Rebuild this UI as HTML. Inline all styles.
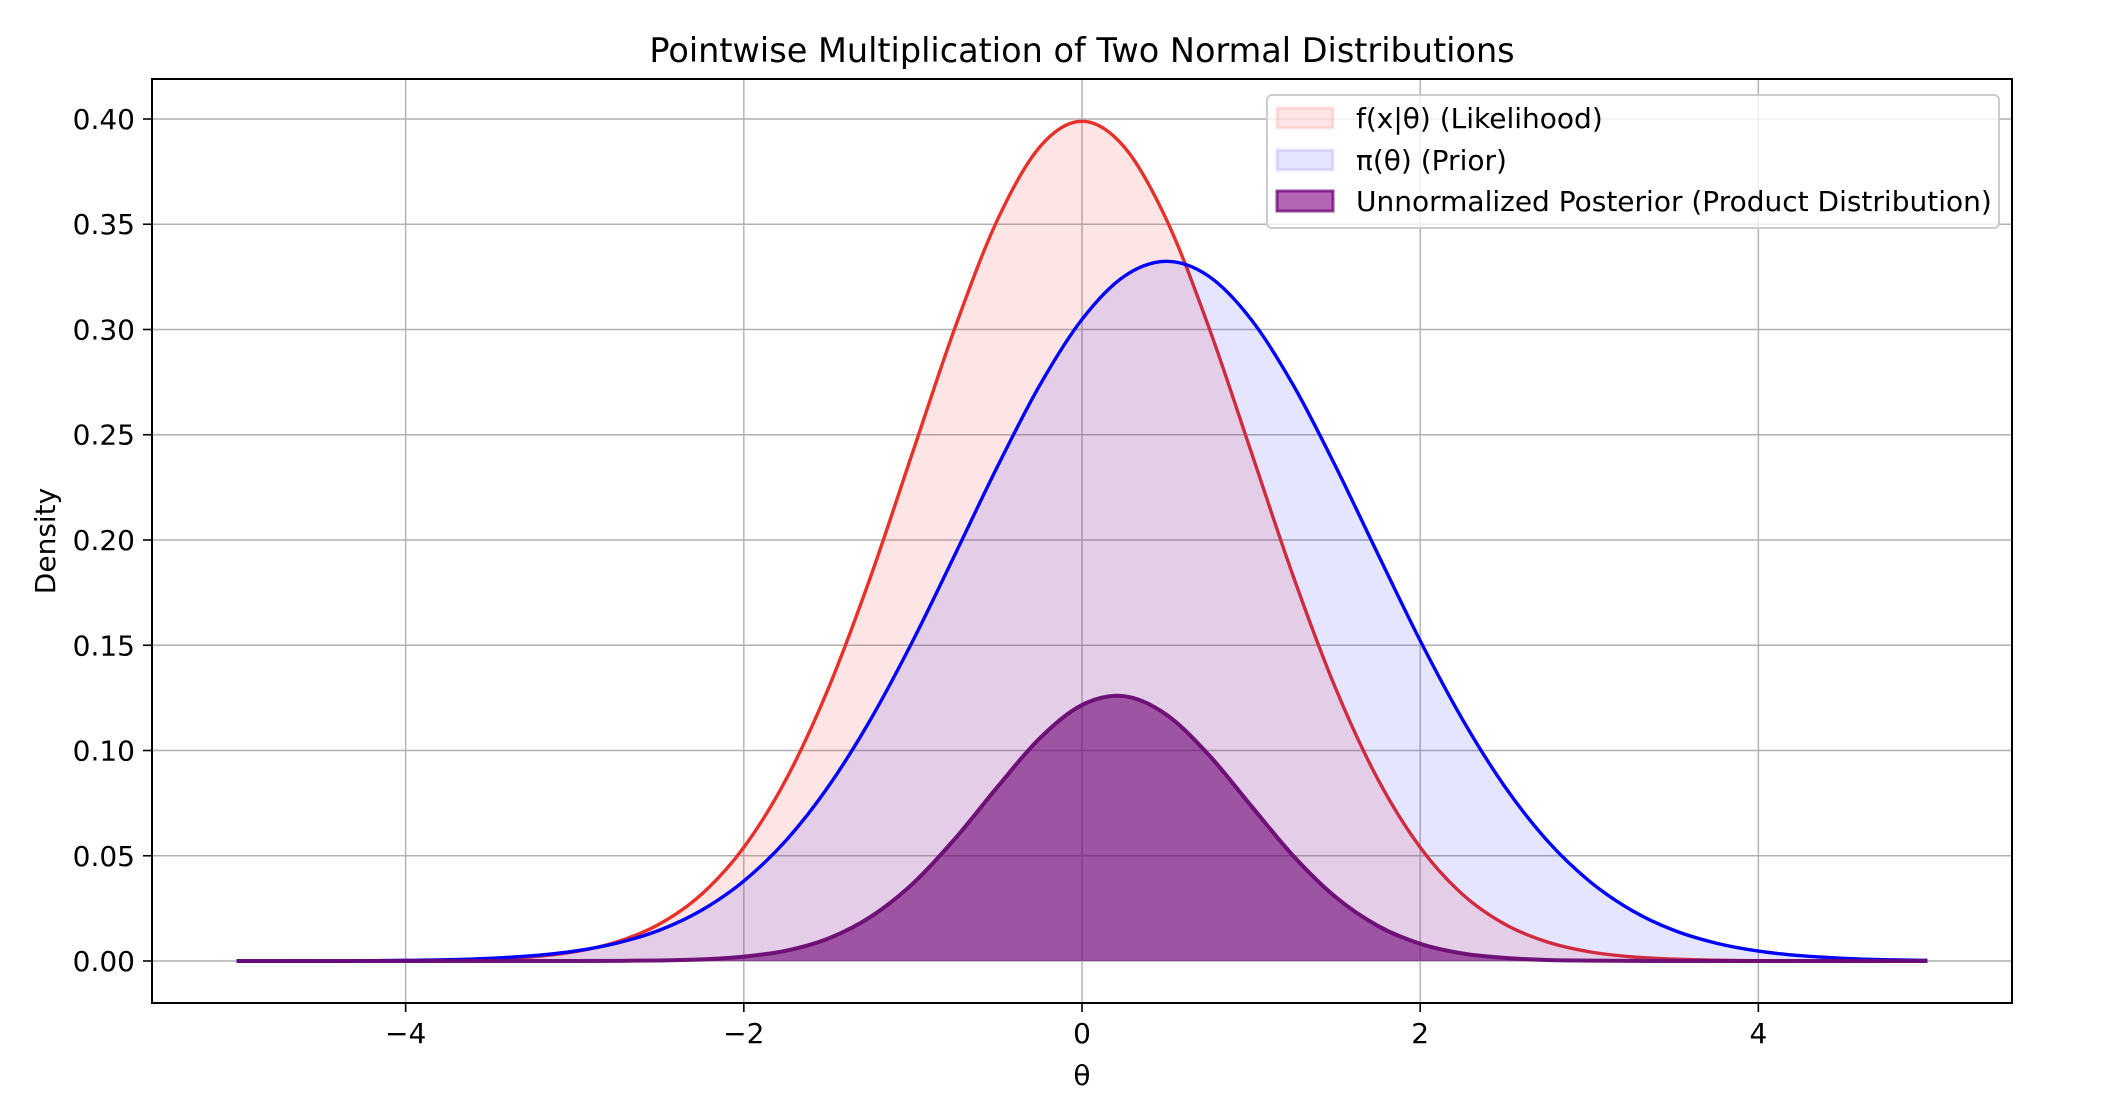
<!DOCTYPE html>
<html><head><meta charset="utf-8"><style>
html,body{margin:0;padding:0;background:#fff;}
svg{display:block;font-family:"DejaVu Sans","Liberation Sans",sans-serif;}
</style></head><body>
<svg id="chart" width="2120" height="1110" viewBox="0 0 2120 1110" xmlns="http://www.w3.org/2000/svg">
<rect width="2120" height="1110" fill="#fff"/>
<g id="grid"></g>
<g id="series"></g>
<g id="axes"></g>
<text x="1082" y="62" font-size="33.5" text-anchor="middle">Pointwise Multiplication of Two Normal Distributions</text>
<text x="1082" y="1085" font-size="28" text-anchor="middle">θ</text>
<text x="0" y="0" font-size="28" text-anchor="middle" transform="translate(55,541) rotate(-90)">Density</text>
<g>
<rect x="1267" y="95" width="732" height="133" rx="5" fill="#fff" fill-opacity="0.8" stroke="#cccccc" stroke-width="2"/>
<rect x="1277" y="108" width="56" height="20" fill="#ff0000" fill-opacity="0.1" stroke="#ff0000" stroke-opacity="0.1" stroke-width="3"/>
<text x="1356" y="128" font-size="28">f(x|θ) (Likelihood)</text>
<rect x="1277" y="150" width="56" height="20" fill="#0000ff" fill-opacity="0.1" stroke="#0000ff" stroke-opacity="0.1" stroke-width="3"/>
<text x="1356" y="170" font-size="28">π(θ) (Prior)</text>
<rect x="1277" y="191" width="56" height="20" fill="#800080" fill-opacity="0.6" stroke="#6d0477" stroke-opacity="0.75" stroke-width="3"/>
<text x="1356" y="211" font-size="28">Unnormalized Posterior (Product Distribution)</text>
</g>
</svg>
<script>
const xs = [-5,-4.75,-4.5,-4.25,-4,-3.75,-3.5,-3.25,-3,-2.75,-2.5,-2.25,-2,-1.75,-1.5,-1.25,-1,-0.75,-0.5,-0.25,0,0.25,0.5,0.75,1,1.25,1.5,1.75,2,2.25,2.5,2.75,3,3.25,3.5,3.75,4,4.25,4.5,4.75,5];
const likelihood = [0,0,0,0,0.0001,0.0004,0.0009,0.002,0.0044,0.0091,0.0175,0.0317,0.054,0.0863,0.1295,0.1826,0.242,0.3011,0.3521,0.3867,0.3989,0.3867,0.3521,0.3011,0.242,0.1826,0.1295,0.0863,0.054,0.0317,0.0175,0.0091,0.0044,0.002,0.0009,0.0004,0.0001,0,0,0,0];
const prior = [0,0,0,0.0001,0.0003,0.0006,0.0013,0.0025,0.0047,0.0085,0.0146,0.0241,0.038,0.0573,0.0829,0.1148,0.1522,0.1933,0.2349,0.2735,0.3048,0.3253,0.3324,0.3253,0.3048,0.2735,0.2349,0.1933,0.1522,0.1148,0.0829,0.0573,0.038,0.0241,0.0146,0.0085,0.0047,0.0025,0.0013,0.0006,0.0003];
const posterior = [0,0,0,0,0,0,0,0,0.00002,0.00008,0.00026,0.00076,0.0021,0.0049,0.0107,0.021,0.0368,0.0582,0.0827,0.1058,0.1216,0.1258,0.117,0.0979,0.0738,0.0499,0.0304,0.0167,0.0082,0.0036,0.0015,0.0005,0.0002,0.00005,0,0,0,0,0,0,0];
const xTicks = [-4,-2,0,2,4];
const xTickLabels = ["−4","−2","0","2","4"];
const yTicks = [0,0.05,0.10,0.15,0.20,0.25,0.30,0.35,0.40];
const yTickLabels = ["0.00","0.05","0.10","0.15","0.20","0.25","0.30","0.35","0.40"];

const L=152,R=2012,T=79,B=1003, XMIN=-5.5,XMAX=5.5,YMIN=-0.01995,YMAX=0.419;
const sx=v=>L+(v-XMIN)/(XMAX-XMIN)*(R-L);
const sy=v=>B-(v-YMIN)/(YMAX-YMIN)*(B-T);
const NS='http://www.w3.org/2000/svg';
function mk(tag,attrs,parent){const e=document.createElementNS(NS,tag);for(const k in attrs)e.setAttribute(k,attrs[k]);parent.appendChild(e);return e;}
const grid=document.getElementById('grid'),series=document.getElementById('series'),axes=document.getElementById('axes');

xTicks.forEach((t,i)=>{
  const g=mk('line',{x1:sx(t),x2:sx(t),y1:T,y2:B,stroke:'#b0b0b0','stroke-width':1.4},grid);
  
  
  const tk=mk('line',{x1:sx(t),x2:sx(t),y1:B,y2:B+9,stroke:'#000','stroke-width':1.6},axes);
  
  
  const tx=mk('text',{x:sx(t),y:B+40,'font-size':28,'text-anchor':'middle'},axes);
  tx.textContent=xTickLabels[i];
  
  
});
yTicks.forEach((t,i)=>{
  const g=mk('line',{x1:L,x2:R,y1:sy(t),y2:sy(t),stroke:'#b0b0b0','stroke-width':1.4},grid);
  
  
  const tk=mk('line',{x1:L-9,x2:L,y1:sy(t),y2:sy(t),stroke:'#000','stroke-width':1.6},axes);
  
  
  const tx=mk('text',{x:L-17,y:sy(t)+10,'font-size':28,'text-anchor':'end'},axes);
  tx.textContent=yTickLabels[i];
  
  
});
const frame=mk('rect',{x:L,y:T,width:R-L,height:B-T,fill:'none',stroke:'#000','stroke-width':2},axes);



function curve(ys){
  const p=xs.map((x,i)=>[sx(x),sy(ys[i])]);
  let d='M'+p[0][0]+','+p[0][1];
  for(let i=0;i<p.length-1;i++){
    const p0=p[Math.max(0,i-1)],p1=p[i],p2=p[i+1],p3=p[Math.min(p.length-1,i+2)];
    const c1=[p1[0]+(p2[0]-p0[0])/6,p1[1]+(p2[1]-p0[1])/6];
    const c2=[p2[0]-(p3[0]-p1[0])/6,p2[1]-(p3[1]-p1[1])/6];
    d+=' C'+c1[0]+','+c1[1]+' '+c2[0]+','+c2[1]+' '+p2[0]+','+p2[1];
  }
  return d;
}
function drawSeries(ys,name,fill,fo,stroke,sw,so){
  const c=curve(ys);
  const area=mk('path',{d:c+' L'+sx(xs[xs.length-1])+','+sy(0)+' L'+sx(xs[0])+','+sy(0)+' Z',fill:fill,'fill-opacity':fo},series);
  
  
  const line=mk('path',{d:c,fill:'none',stroke:stroke,'stroke-width':sw,'stroke-opacity':so,'stroke-linejoin':'round'},series);
  
  
}
drawSeries(likelihood,'likelihood','#ee4444',0.14,'#e8302a',3.4,1);
drawSeries(prior,'prior','#0000ff',0.1,'#0000ff',3.4,1);
drawSeries(posterior,'posterior','#6d0477',0.6,'#6a0a74',4,0.95);
</script>
</body></html>
